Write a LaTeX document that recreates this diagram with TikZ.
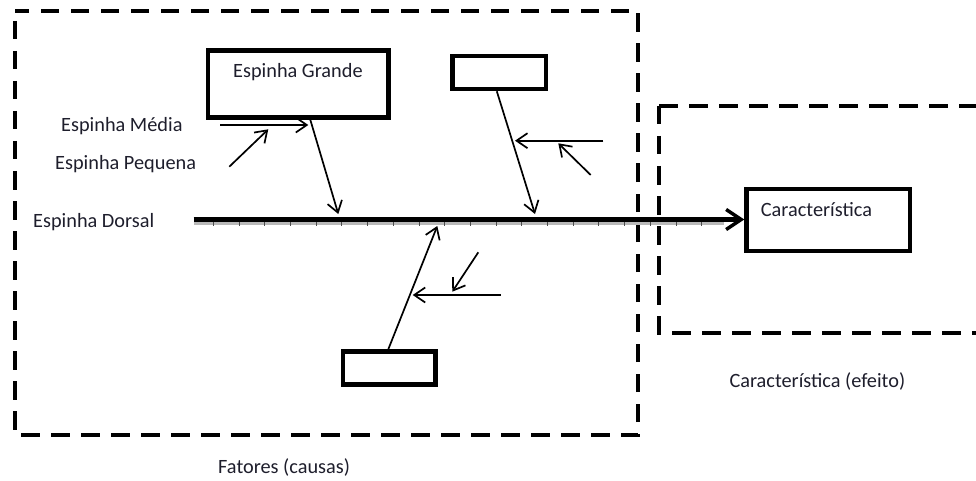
\documentclass[tikz,border=0pt]{standalone}
\usepackage{fontspec}
\setmainfont{Carlito}
\usetikzlibrary{arrows.meta}
\definecolor{inkc}{HTML}{1E1E2C}
\begin{document}
\begin{tikzpicture}[x=1pt,y=-1pt,
  frame/.style={line width=4.5pt, dash pattern=on 18.5pt off 11.5pt},
  boxn/.style={draw, line width=4.5pt, inner sep=0pt},
  bone/.style={line width=1.7pt, -{Straight Barb[length=11pt,width=15pt,line width=1.7pt]}},
  lbl/.style={text=inkc, inner sep=0pt, anchor=base west, font=\fontsize{20.3}{24}\selectfont},
  spine/.style={line width=4.5pt, -{Straight Barb[length=15pt,width=20pt,line width=3.5pt]}}
]
\useasboundingbox (0,0) rectangle (976,481);

% dashed regions: causes (left) and effect (right, open to the edge)
\draw[frame, dash phase=20pt] (15,11) rectangle (638,435);
\draw[frame] (659,106) -- (985,106);
\draw[frame] (659,106) -- (659,333) -- (985,333);

% boxes
\node[boxn, minimum width=180.5pt, minimum height=67pt] (grande) at (298.3,84) {};
\node[lbl] (grandetxt) at (233,78) {Espinha Grande};
\node[boxn, minimum width=93.5pt, minimum height=33pt] (topbox) at (499.3,72.5) {};
\node[boxn, minimum width=92.5pt, minimum height=33pt] (botbox) at (389.3,368) {};
\node[boxn, minimum width=163.5pt, minimum height=62pt] (charbox) at (828.3,220) {};
\node[lbl] (chartxt) at (760.7,216.7) {Característica};

% labels
\node[lbl] (media) at (61,131.7) {Espinha Média};
\node[lbl] (pequena) at (55,170) {Espinha Pequena};
\node[lbl] (dorsal) at (33,227.3) {Espinha Dorsal};
\node[lbl] (efeito) at (729.3,387.3) {Característica (efeito)};
\node[lbl] (fatores) at (218,473) {Fatores (causas)};

% backbone with its grey ruled underside
\coordinate (sp0) at (193.5,219.5);
\draw[line width=3pt, gray!55] (193.5,223.5) -- (724,223.5);
\foreach \t in {0,...,19}
  \draw[gray!60!black, line width=0.7pt] ({213.3+25.7*\t},222) -- ++(0,3.5);
\draw[spine] (sp0) -- (sp0 -| charbox.west);

% main bones
\coordinate (gB) at (338.3,214);
\coordinate (tB) at (535,214);
\coordinate (bB) at (437.3,226);
\draw[bone] ([xshift=12pt]grande.south) -- (gB);
\draw[bone] ([xshift=-2.5pt]topbox.south) -- (tB);
\draw[bone] ([xshift=-1pt]botbox.north) -- (bB);

% medium and small bones
\coordinate (gm0) at (220,125);   \coordinate (gm1) at (308.3,125);
\coordinate (gs0) at (229.3,166.7); \coordinate (gs1) at (268.3,129.3);
\coordinate (tm0) at (603.3,140.7); \coordinate (tm1) at (515,140.7);
\coordinate (ts0) at (590.7,175);   \coordinate (ts1) at (558.3,143.3);
\coordinate (bm0) at (500.7,295);   \coordinate (bm1) at (412.7,295);
\coordinate (bs0) at (478.3,252.3); \coordinate (bs1) at (452.3,291.7);
\draw[bone] (gm0) -- (gm1);
\draw[bone] (gs0) -- (gs1);
\draw[bone] (tm0) -- (tm1);
\draw[bone] (ts0) -- (ts1);
\draw[bone] (bm0) -- (bm1);
\draw[bone] (bs0) -- (bs1);
\end{tikzpicture}
\end{document}
